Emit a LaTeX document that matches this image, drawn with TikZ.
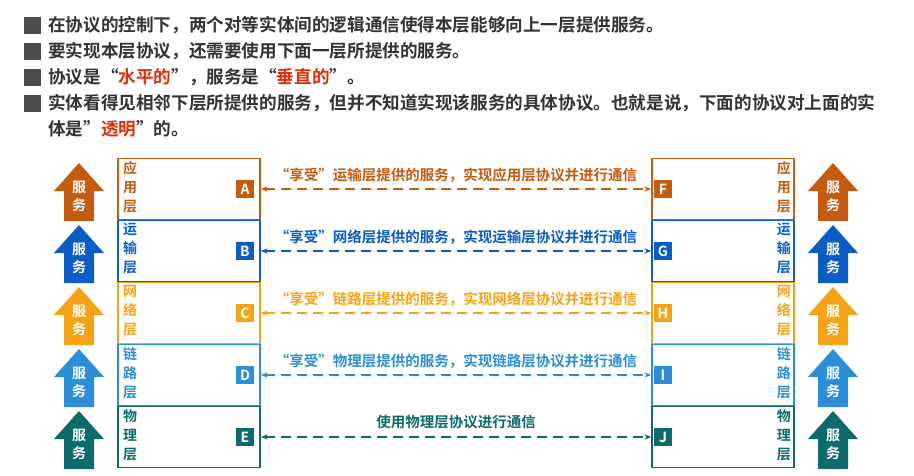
\documentclass[tikz,border=0pt]{standalone}
\usepackage{fontspec}
\setmainfont{Noto Sans CJK SC}[BoldFont={* Bold}]
\usetikzlibrary{arrows.meta}
\definecolor{cA}{HTML}{C55A11}
\definecolor{cB}{HTML}{0B5CC4}
\definecolor{cC}{HTML}{F5A316}
\definecolor{cD}{HTML}{2C8ED6}
\definecolor{cE}{HTML}{0F6B6B}
\definecolor{hl}{HTML}{E0300A}
\tikzset{x=1pt,y=-1pt,
 layerbox/.style={draw=#1,line width=1.4pt,minimum width=142pt,minimum height=61pt,inner sep=0pt},
 letter/.style={fill=#1,text=white,font=\bfseries\fontsize{14}{14}\selectfont,minimum size=18pt,inner sep=0pt},
 ltxt/.style={text=#1,font=\bfseries\fontsize{14}{19}\selectfont,align=left,inner sep=0pt},
 comm/.style={draw=#1,line width=2pt,dash pattern=on 10pt off 6pt,{Stealth[length=7pt]}-{Stealth[length=7pt]}},
 ctext/.style={text=#1,font=\bfseries\fontsize{14.5}{14.5}\selectfont,inner sep=0pt},
 bul/.style={fill=black!70,minimum size=17pt,inner sep=0pt},
 line/.style={font=\bfseries\fontsize{17.6}{17.6}\selectfont,anchor=west,text=black!80,inner sep=0pt}}
\newcommand{\svcarrow}[3]{%
 \fill[#3] (#1-15,#2+30) -- (#1-15,#2) -- (#1-25,#2) -- (#1,#2-28) -- (#1+25,#2) -- (#1+15,#2) -- (#1+15,#2+30) -- cycle;
 \node[text=white,font=\bfseries\fontsize{14}{18}\selectfont,align=center] at (#1,#2+5) {服\\务};}
\begin{document}
\begin{tikzpicture}
\useasboundingbox[fill=white] (0,0) rectangle (914,475);
\foreach \yy/\n in {25/b1,51/b2,77/b3,103/b4}{\node[bul] (\n) at (32,\yy) {};}
\node[line] (t1) at (48,25) {在协议的控制下，两个对等实体间的逻辑通信使得本层能够向上一层提供服务。};
\node[line] (t2) at (48,51) {要实现本层协议，还需要使用下面一层所提供的服务。};
\node[line] (t3) at (48,77) {协议是“\textcolor{hl}{水平的}”，服务是“\textcolor{hl}{垂直的}”。};
\node[line] (t4) at (48,103) {实体看得见相邻下层所提供的服务，但并不知道实现该服务的具体协议。也就是说，下面的协议对上面的实};
\node[line] (t5) at (48,129) {体是"\textcolor{hl}{透明}"的。};
\foreach \c/\yy/\L/\R/\a/\b/\cc in {cA/189/A/F/应/用/层, cB/251/B/G/运/输/层, cC/313/C/H/网/络/层, cD/375/D/I/链/路/层, cE/437/E/J/物/理/层}{
 \node[layerbox=\c] (l\L) at (189,\yy) {};
 \node[layerbox=\c] (r\R) at (723,\yy) {};
 \node[ltxt=\c,anchor=north west] (lt\L) at (123,\yy-28) {\a\\\b\\\cc};
 \node[ltxt=\c,anchor=north east] (rt\R) at (791,\yy-28) {\a\\\b\\\cc};
 \node[letter=\c] (\L) at (245,\yy) {\L};
 \node[letter=\c] (\R) at (663,\yy) {\R};
 \svcarrow{79}{\yy+2}{\c}
 \svcarrow{833}{\yy+2}{\c}
}
\draw[comm=cA] (lA.east) -- (rF.west);
\draw[comm=cB] (lB.east) -- (rG.west);
\draw[comm=cC] (lC.east) -- (rH.west);
\draw[comm=cD] (lD.east) -- (rI.west);
\draw[comm=cE] (lE.east) -- (rJ.west);
\node[ctext=cA] (mA) at (456,175) {“享受”运输层提供的服务，实现应用层协议并进行通信};
\node[ctext=cB] (mB) at (456,237) {“享受”网络层提供的服务，实现运输层协议并进行通信};
\node[ctext=cC] (mC) at (456,299) {“享受”链路层提供的服务，实现网络层协议并进行通信};
\node[ctext=cD] (mD) at (456,361) {“享受”物理层提供的服务，实现链路层协议并进行通信};
\node[ctext=cE] (mE) at (456,422) {使用物理层协议进行通信};
\end{tikzpicture}
\end{document}
